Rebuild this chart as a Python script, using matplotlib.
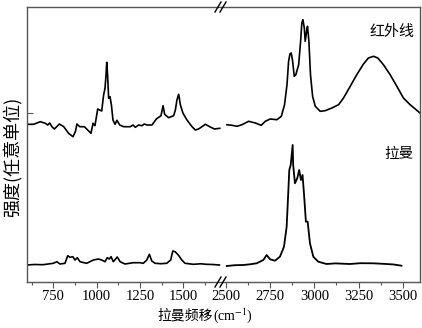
import matplotlib.pyplot as plt
from matplotlib.ticker import MultipleLocator
from matplotlib.lines import Line2D

plt.rcParams['font.family'] = ['Liberation Serif', 'Noto Sans CJK SC']
plt.rcParams['mathtext.fontset'] = 'stix'

# IR spectrum (offset upward), low-wavenumber part
ir_lo_x = [598, 636, 675, 704, 717, 729, 742, 756, 785, 810, 838, 863, 877, 886,
           902, 929, 954, 967, 979, 990, 1006, 1017, 1029, 1040, 1048, 1054, 1058,
           1063, 1069, 1077, 1085, 1094, 1106, 1117, 1133, 1156, 1194, 1210, 1223,
           1242, 1261, 1275, 1290, 1319, 1344, 1371, 1383, 1392, 1415, 1444, 1454,
           1463, 1473, 1483, 1498, 1521, 1550, 1569, 1588, 1627, 1652, 1679, 1710]
ir_lo_y = [157.7, 157.7, 160.3, 158.7, 157, 159, 155.3, 153, 158, 155.3, 148.7,
           145.3, 150.3, 158, 155.3, 155.3, 151, 148.7, 158.7, 156.3, 173, 172, 171,
           187, 193.7, 207, 219.7, 207, 183.7, 185.3, 177, 162, 157.7, 161.7, 157,
           155.3, 155.3, 157, 154.7, 157, 156.3, 158, 157, 157, 163, 166.3, 176.3,
           167.7, 164.3, 166.3, 172, 182, 187.7, 177, 168.7, 162, 155.3, 152, 153,
           157.7, 155.3, 153, 153.7]

# IR spectrum, high-wavenumber part
ir_hi_x = [2505, 2534, 2562, 2590, 2628, 2666, 2699, 2722, 2750, 2788, 2813, 2831,
           2845, 2854, 2862, 2869, 2877, 2886, 2895, 2911, 2922, 2929, 2935, 2943,
           2948, 2956, 2961, 2969, 2978, 2990, 3005, 3033, 3061, 3099, 3137, 3165,
           3203, 3240, 3278, 3306, 3335, 3359, 3391, 3429, 3467, 3504, 3542, 3598]
ir_hi_y = [157.3, 156.7, 155.7, 157.3, 160.7, 159, 156.7, 160.7, 163, 162.3, 165.7,
           177.3, 197.3, 220.7, 228.3, 229, 220.7, 205.7, 207.3, 217.3, 240.7, 259,
           262.3, 254, 240.7, 250.7, 255.7, 240.7, 207.3, 185.7, 175.7, 170.7, 171.3,
           174, 177.3, 184, 195.7, 207.3, 218, 224, 225.7, 224, 217.3, 207.3, 195.7,
           184, 177.3, 169]

# Raman spectrum, low-wavenumber part
ra_lo_x = [598, 640, 690, 750, 770, 788, 817, 833, 846, 862, 875, 888, 904, 942,
           981, 1009, 1029, 1048, 1061, 1073, 1083, 1096, 1119, 1135, 1163, 1211,
           1250, 1269, 1289, 1304, 1318, 1337, 1370, 1404, 1427, 1439, 1452, 1471,
           1491, 1510, 1558, 1600, 1635, 1670, 1708]
ra_lo_y = [17, 17.5, 17.3, 18.7, 20.3, 18, 18.7, 26.3, 24.7, 25.3, 22, 24.3, 20.3,
           18.7, 22, 23, 22, 20.3, 24.3, 23, 25.3, 20.3, 25, 20.3, 18, 19.3, 19.3,
           18.7, 22, 27.7, 21, 18.7, 18.3, 18.7, 22, 31, 30.3, 27, 22, 18.7, 17.7,
           18.2, 17.7, 17.5, 17]

# Raman spectrum, high-wavenumber part
ra_hi_x = [2504, 2550, 2598, 2640, 2673, 2711, 2730, 2749, 2777, 2805, 2828, 2843,
           2852, 2858, 2866, 2877, 2880, 2890, 2903, 2914, 2924, 2933, 2941, 2952,
           2962, 2975, 2994, 3022, 3069, 3120, 3201, 3260, 3333, 3408, 3450, 3493]
ra_hi_y = [16, 16.8, 17, 17.8, 18.7, 22, 27, 22.7, 21.3, 25.3, 35.3, 55.3, 88.7,
           112, 117, 137, 117, 98.7, 103.7, 112, 102, 107, 88.7, 60.3, 60.3, 38.7,
           25.3, 20.3, 18, 18.6, 18, 18.8, 18.7, 18, 17.5, 16.3]

W, H = 422, 328
fig = plt.figure(figsize=(W / 100, H / 100), dpi=100)
x0, xb, x1 = 27 / W, 222 / W, 420 / W
yb, yt = 1 - 282 / H, 1 - 7 / H
ax1 = fig.add_axes([x0, yb, xb - x0, yt - yb])
ax2 = fig.add_axes([xb, yb, x1 - xb, yt - yb])

spine_c = '#555555'
for ax in (ax1, ax2):
    ax.set_ylim(0, 275)
    for s in ax.spines.values():
        s.set_color(spine_c)
        s.set_linewidth(1.0)
    ax.xaxis.set_major_locator(MultipleLocator(250))
    ax.xaxis.set_minor_locator(MultipleLocator(125))
    ax.tick_params(axis='x', which='major', direction='out', length=4,
                   width=0.8, color=spine_c, labelsize=10.5, pad=2)
    ax.tick_params(axis='x', which='minor', direction='out', length=2.5,
                   width=0.8, color=spine_c)

ax1.plot(ir_lo_x, ir_lo_y, color='black', lw=1.2)
ax1.plot(ra_lo_x, ra_lo_y, color='black', lw=1.2)
ax2.plot(ir_hi_x, ir_hi_y, color='black', lw=1.2)
ax2.plot(ra_hi_x, ra_hi_y, color='black', lw=1.3)

ax1.set_xlim(598, 1723)
ax2.set_xlim(2477, 3598)
ax1.spines['right'].set_visible(False)
ax2.spines['left'].set_visible(False)
ax1.set_yticks([169])
ax1.set_yticklabels([])
ax1.tick_params(axis='y', direction='in', length=4, width=0.8, color=spine_c)
ax2.set_yticks([])

# break marks "//" on top and bottom spines
for yy in (yb, yt):
    for dx in (-4, 1):
        xc = (222 + dx) / W
        fig.add_artist(Line2D([xc - 3 / W, xc + 3 / W],
                              [yy - 5 / H, yy + 5 / H],
                              color='black', lw=1.0))

cjk = ['Noto Sans CJK SC']
fig.text(392 / W, 1 - 32 / H, '红外线', ha='center', va='center', fontsize=10.8,
         family=cjk)
fig.text(399 / W, 1 - 154 / H, '拉曼', ha='center', va='center', fontsize=10.5,
         family=cjk)

fig.text(213 / W, 1 - 316 / H, '拉曼频移', ha='right', va='center',
         fontsize=10, family=cjk)
fig.text(213 / W, 1 - 316 / H, '(cm$^{-1}$)', ha='left', va='center',
         fontsize=10)
fig.text(13 / W, 1 - 157 / H, '强度(任意单位)', ha='center', va='center',
         rotation=90, fontsize=13, family=cjk)

fig.savefig('out.png', dpi=100)
